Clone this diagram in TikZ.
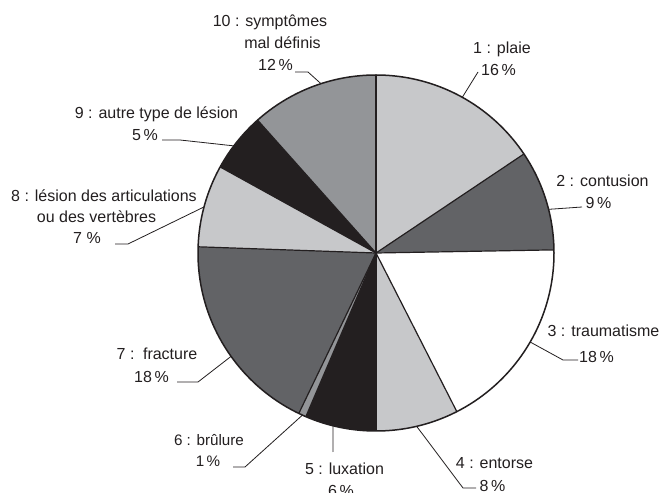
\documentclass[tikz,border=0pt]{standalone}
\usepackage{fontspec}
\setmainfont{Liberation Sans}
\usetikzlibrary{calc}
\definecolor{ink}{HTML}{231F20}
\definecolor{lgray}{HTML}{C7C8CA}
\definecolor{dgray}{HTML}{626366}
\definecolor{mgray}{HTML}{939598}
\begin{document}
\begin{tikzpicture}[x=1pt,y=1pt,
  lbl/.style={anchor=base,inner sep=0pt,text=ink,font=\fontsize{16}{19}\selectfont},
  lbls/.style={lbl,font=\fontsize{15.2}{18}\selectfont},
  lead/.style={draw=ink,line width=0.8pt},
  sep/.style={draw=ink,line width=1.2pt},
  rim/.style={draw=ink,line width=1.5pt}]
\useasboundingbox (0,0) rectangle (662,493);
\fill[white] (0,0) rectangle (662,493);
\coordinate (c) at (376,240);
\def\R{178pt}
% slices (clockwise from top)
\foreach \a/\b/\col in {90/33.8/lgray, 33.8/1/dgray, 1/-63/white, -63/-90/lgray,
  -90/-113.2/ink, -113.2/-115.7/mgray, -115.7/-182/dgray, 178/151.1/lgray,
  151.1/131.7/ink, 131.7/90/mgray}{
  \fill[\col] (c) -- ++(\a:\R) arc[start angle=\a, end angle=\b, radius=\R] -- cycle;
}
\foreach \a in {90,33.8,1,-63,-90,-113.2,-115.7,178,151.1,131.7}{
  \draw[sep] (c) -- ++(\a:\R);
}
\draw[rim] (c) circle[radius=\R];
% labels
\node[lbl] (t10a) at (270,466) {10 : symptômes};
\node[lbl] (t10b) at (282.5,444) {mal définis};
\node[lbl] (t10c) at (275.5,422) {12\,\%};
\node[lbl] (t1a) at (502,439) {1 : plaie};
\node[lbl] (t1b) at (498.5,417) {16\,\%};
\node[lbl] (t2a) at (602.5,306) {2 : contusion};
\node[lbl] (t2b) at (598.5,284) {9\,\%};
\node[lbl] (t3a) at (603.5,156) {3 : traumatisme};
\node[lbl] (t3b) at (596.5,130) {18\,\%};
\node[lbl] (t4a) at (494.5,24) {4 : entorse};
\node[lbl] (t4b) at (492.5,1) {8\,\%};
\node[lbl] (t5a) at (344.5,18) {5 : luxation};
\node[lbl] (t5b) at (341,-4) {6\,\%};
\node[lbls] (t6a) at (209,47) {6 : brûlure};
\node[lbls] (t6b) at (208,26) {1\,\%};
\node[lbl] (t7a) at (157,133) {7 :\, fracture};
\node[lbl] (t7b) at (151.5,110) {18\,\%};
\node[lbl] (t8a) at (104,291) {8 : lésion des articulations};
\node[lbl] (t8b) at (96.5,270) {ou des vertèbres};
\node[lbl] (t8c) at (87,249) {7 \%};
\node[lbl] (t9a) at (156.5,374) {9 : autre type de lésion};
\node[lbl] (t9b) at (145,352) {5\,\%};
% leader points
\coordinate (e10) at ($(c)+(108:\R)$);
\coordinate (e1) at ($(c)+(61:\R)$);
\coordinate (e2) at ($(c)+(14.2:\R)$);
\coordinate (e3) at ($(c)+(-30:\R)$);
\coordinate (e4) at ($(c)+(-76.8:\R)$);
\coordinate (e5) at ($(c)+(-104:\R)$);
\coordinate (e6) at ($(c)+(-114.4:\R)$);
\coordinate (e7) at ($(c)+(-144.5:\R)$);
\coordinate (e8) at ($(c)+(165:\R)$);
\coordinate (e9) at ($(c)+(143:\R)$);
\coordinate (s10) at (295,421); \coordinate (k10) at (308,421);
\coordinate (s1) at (478,421);
\coordinate (s2) at (582,286);
\coordinate (k3) at (563,133); \coordinate (s3) at (578,133);
\coordinate (k4) at (463,5); \coordinate (s4) at (476,5);
\coordinate (s5) at (333,41);
\coordinate (s6) at (233,26); \coordinate (k6) at (245,26);
\coordinate (s7) at (177,111); \coordinate (k7) at (198,111);
\coordinate (s8) at (115,249); \coordinate (k8) at (128,249);
\coordinate (s9) at (162,353); \coordinate (k9) at (180,353);
\draw[lead] (s10) -- (k10) -- (e10);
\draw[lead] (s1) -- (e1);
\draw[lead] (e2) -- (s2);
\draw[lead] (e3) -- (k3) -- (s3);
\draw[lead] (e4) -- (k4) -- (s4);
\draw[lead] (e5) -- (s5);
\draw[lead] (s6) -- (k6) -- (e6);
\draw[lead] (s7) -- (k7) -- (e7);
\draw[lead] (s8) -- (k8) -- (e8);
\draw[lead] (s9) -- (k9) -- (e9);
\end{tikzpicture}
\end{document}
